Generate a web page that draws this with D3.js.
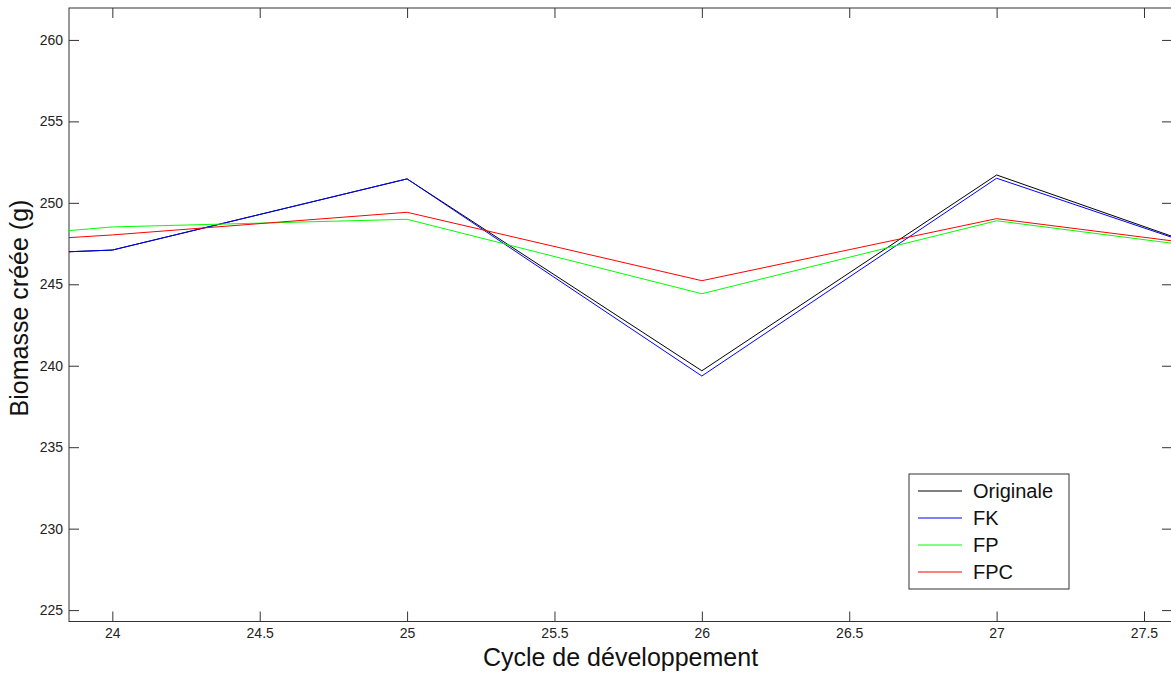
<!DOCTYPE html>
<html>
<head>
<meta charset="utf-8">
<script src="https://cdn.jsdelivr.net/npm/d3@7"></script>
<style>
  body { margin: 0; background: #fff; }
  svg { display: block; font-family: "Liberation Sans", Arial, sans-serif; }
</style>
</head>
<body>
<div id="chart"></div>
<script>
// data (cycles 23 and 28 only feed the clipped edge segments)
var cycles = [23, 24, 25, 26, 27, 28];
var originale = [246.4, 247.1, 251.47, 239.69, 251.71, 245.38];
var fk = [246.4, 247.1, 251.47, 239.37, 251.51, 245.41];
var fp = [247.0, 248.52, 248.99, 244.42, 248.9, 246.58];
var fpc = [246.9, 248.03, 249.42, 245.22, 249.03, 246.74];

var seriesNames = ["Originale", "FK", "FP", "FPC"];
var seriesColors = ["#000000", "#0000ff", "#00ff00", "#ff0000"];
var seriesValues = [originale, fk, fp, fpc];

var xTicks = [24, 24.5, 25, 25.5, 26, 26.5, 27, 27.5];
var yTicks = [225, 230, 235, 240, 245, 250, 255, 260];

var svgWidth = 1171;
var svgHeight = 675;

var margin = { top: 8, right: -1, bottom: 53.5, left: 69 };
var width = svgWidth - margin.left - margin.right;
var height = svgHeight - margin.top - margin.bottom;

var svg = d3.select("#chart")
  .append("svg")
  .attr("width", svgWidth)
  .attr("height", svgHeight);

var chartGroup = svg.append("g")
  .attr("transform", `translate(${margin.left}, ${margin.top})`);

// scales
var x = d3.scaleLinear().domain([23.853, 27.595]).range([0, width]);
var y = d3.scaleLinear().domain([224.3, 261.96]).range([height, 0]);

// clip so lines stop at the box
svg.append("defs").append("clipPath")
  .attr("id", "plotClip")
  .append("rect")
  .attr("width", width)
  .attr("height", height);

// box frame
chartGroup.append("rect")
  .attr("width", width)
  .attr("height", height)
  .attr("fill", "none")
  .attr("stroke", "#333")
  .attr("stroke-width", 1);

// axes with inward ticks, matlab style
var tickLen = 10;
var fmt = d3.format("");

chartGroup.append("g")
  .attr("transform", `translate(0, ${height})`)
  .call(d3.axisBottom(x).tickValues(xTicks).tickSize(-tickLen).tickPadding(6.5).tickFormat(fmt))
  .call(function (g) { g.select(".domain").remove(); });

chartGroup.append("g")
  .call(d3.axisTop(x).tickValues(xTicks).tickSize(-tickLen).tickFormat(""))
  .call(function (g) { g.select(".domain").remove(); });

chartGroup.append("g")
  .call(d3.axisLeft(y).tickValues(yTicks).tickSize(-tickLen).tickPadding(6).tickFormat(fmt))
  .call(function (g) { g.select(".domain").remove(); });

chartGroup.append("g")
  .attr("transform", `translate(${width}, 0)`)
  .call(d3.axisRight(y).tickValues(yTicks).tickSize(-tickLen).tickFormat(""))
  .call(function (g) { g.select(".domain").remove(); });

chartGroup.selectAll(".tick line").attr("stroke", "#333");
chartGroup.selectAll(".tick text")
  .attr("fill", "#222")
  .style("font-size", "14px")
  .style("font-family", "'Liberation Sans', Arial, sans-serif");

// lines
var line = d3.line()
  .x(function (d) { return x(d[0]); })
  .y(function (d) { return y(d[1]); });

var linesGroup = chartGroup.append("g").attr("clip-path", "url(#plotClip)");
seriesValues.forEach(function (vals, i) {
  var pts = cycles.map(function (c, j) { return [c, vals[j]]; });
  linesGroup.append("path")
    .datum(pts)
    .attr("d", line)
    .attr("fill", "none")
    .attr("stroke", seriesColors[i])
    .attr("stroke-width", 1);
});

// legend
var legend = svg.append("g").attr("transform", "translate(909, 474)");
legend.append("rect")
  .attr("width", 160)
  .attr("height", 115)
  .attr("fill", "#fff")
  .attr("stroke", "#333");

seriesNames.forEach(function (name, i) {
  var row = legend.append("g").attr("transform", `translate(0, ${17 + i * 27})`);
  row.append("line")
    .attr("x1", 9).attr("x2", 53)
    .attr("stroke", seriesColors[i])
    .attr("stroke-width", 1);
  row.append("text")
    .attr("x", 64)
    .attr("dy", "0.35em")
    .style("font-size", "20px")
    .attr("fill", "#111")
    .text(name);
});

// axis labels
svg.append("text")
  .attr("x", margin.left + width / 2)
  .attr("y", 666)
  .attr("text-anchor", "middle")
  .style("font-size", "25px")
  .attr("fill", "#111")
  .text("Cycle de développement");

svg.append("text")
  .attr("transform", "translate(28, 308) rotate(-90)")
  .attr("text-anchor", "middle")
  .style("font-size", "25px")
  .attr("fill", "#111")
  .text("Biomasse créée (g)");
</script>
</body>
</html>
